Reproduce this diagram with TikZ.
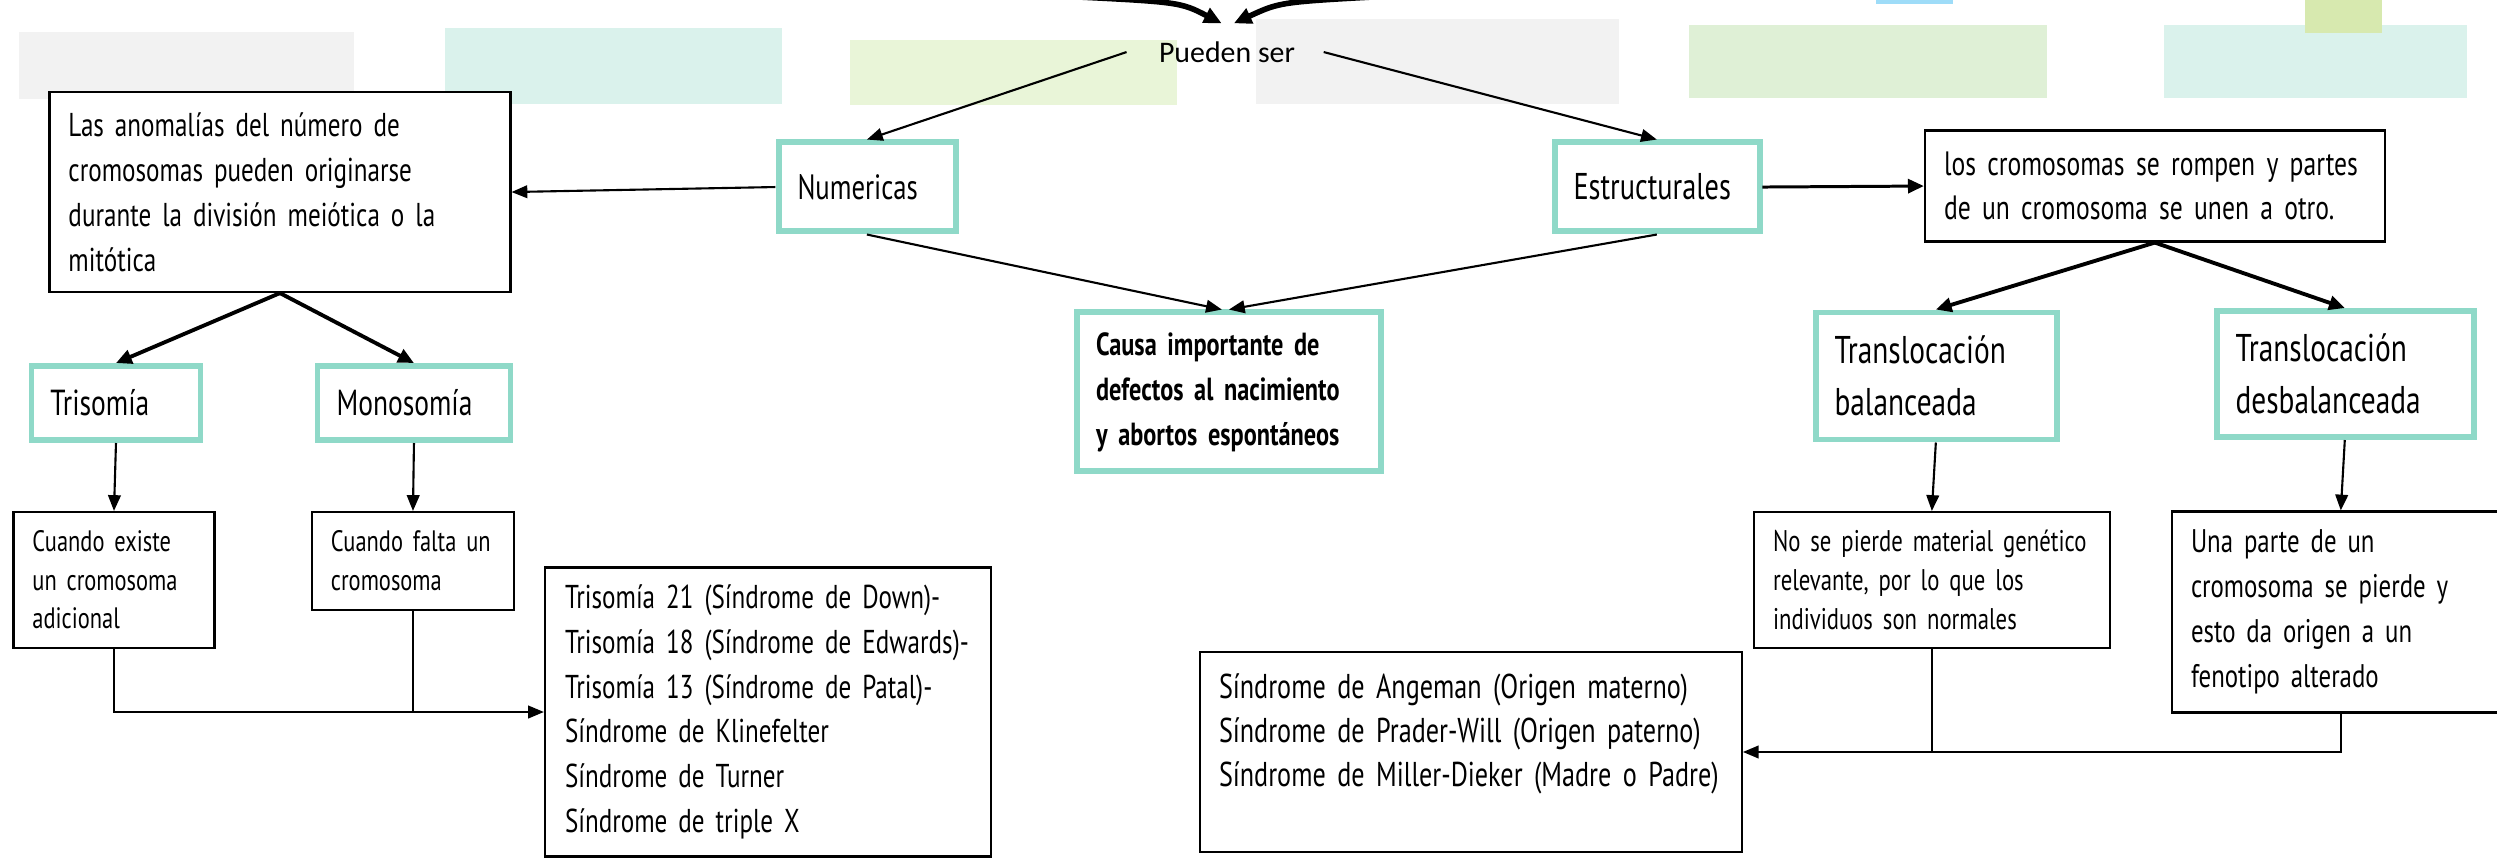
\documentclass[tikz,border=0pt]{standalone}
\usepackage{fontspec}
\setmainfont{Carlito}
\newfontfamily\handfont{PT Sans}[FakeStretch=0.76]
\usetikzlibrary{arrows.meta}

\definecolor{tealBorder}{HTML}{8FD9C8}
\definecolor{paperGrey}{HTML}{F2F2F2}
\definecolor{paperTeal}{HTML}{DAF2EC}
\definecolor{paperLime}{HTML}{E9F5D8}
\definecolor{paperGreen}{HTML}{DFF0D6}
\definecolor{paperBlue}{HTML}{9EDCF8}
\definecolor{paperOlive}{HTML}{D7E9AF}

\begin{document}
\begin{tikzpicture}[scale = 10]
	\tikzstyle{plainStyle} = [draw, line width = 0.6pt, fill = white, inner xsep = 0.19cm, inner ysep = 0pt, align = left]
	\tikzstyle{tealStyle} = [draw = tealBorder, line width = 1.7pt, fill = white, inner xsep = 0.19cm, inner ysep = 0pt, align = left]
	\tikzstyle{thinArrow} = [line width = 0.6pt, -{Triangle[length = 4.5pt, width = 3.6pt]}]
	\tikzstyle{midArrow} = [line width = 0.85pt, -{Triangle[length = 4.5pt, width = 4pt]}]
	\tikzstyle{thickArrow} = [line width = 1.1pt, -{Triangle[length = 4.5pt, width = 4pt]}]
	\tikzstyle{curveArrow} = [line width = 1.6pt, -{Triangle[length = 5pt, width = 4.5pt]}]
	\tikzstyle{joinLine} = [line width = 0.6pt]
	\clip (0, 0) rectangle (2.497, 0.858);
	% coloured notes along the top
	\fill[paperGrey] (0.019, 0.826) rectangle (0.354, 0.759);
	\fill[paperTeal] (0.445, 0.830) rectangle (0.782, 0.754);
	\fill[paperLime] (0.850, 0.818) rectangle (1.177, 0.753);
	\fill[paperGrey] (1.256, 0.839) rectangle (1.619, 0.754);
	\fill[paperGreen] (1.689, 0.833) rectangle (2.047, 0.760);
	\fill[paperTeal] (2.164, 0.833) rectangle (2.467, 0.760);
	\fill[paperBlue] (1.876, 0.858) rectangle (1.953, 0.854);
	\fill[paperOlive] (2.305, 0.858) rectangle (2.382, 0.825);
	\coordinate (srcL) at (1.060, 0.862);
	\coordinate (srcR) at (1.390, 0.862);
	\node[font = \fontsize{8.5}{10}\selectfont, inner sep = 3pt] (pueden) at (1.227, 0.806) {Pueden ser};
	\node[plainStyle, text width = 4.23cm, minimum height = 2.00cm, font = \handfont\fontsize{9.4}{12.8}\selectfont] (anom) at (0.280, 0.666) {Las anomalías del número de\\cromosomas pueden originarse\\durante la división meiótica o la\\mitótica};
	\node[tealStyle, text width = 1.39cm, minimum height = 0.89cm, font = \handfont\fontsize{10}{12}\selectfont] (num) at (0.867, 0.671) {Numericas};
	\node[tealStyle, text width = 1.67cm, minimum height = 0.89cm, font = \handfont\fontsize{10.6}{12}\selectfont] (estr) at (1.657, 0.671) {Estructurales};
	\node[plainStyle, text width = 4.22cm, minimum height = 1.11cm, font = \handfont\fontsize{9.6}{12.5}\selectfont] (loscrom) at (2.155, 0.672) {los cromosomas se rompen y partes\\de un cromosoma se unen a otro.};
	\node[tealStyle, text width = 2.66cm, minimum height = 1.59cm, font = \handfont\bfseries\fontsize{9.1}{12.8}\selectfont] (causa) at (1.229, 0.466) {Causa importante de\\defectos al nacimiento\\y abortos espontáneos};
	\node[tealStyle, text width = 1.31cm, minimum height = 0.74cm, font = \handfont\fontsize{10.3}{12}\selectfont] (tri) at (0.116, 0.455) {Trisomía};
	\node[tealStyle, text width = 1.55cm, minimum height = 0.74cm, font = \handfont\fontsize{10.3}{12}\selectfont] (mono) at (0.414, 0.455) {Monosomía};
	\node[tealStyle, text width = 2.03cm, minimum height = 1.27cm, font = \handfont\fontsize{11}{14.8}\selectfont] (tbal) at (1.936, 0.482) {Translocación\\balanceada};
	\node[tealStyle, text width = 2.19cm, minimum height = 1.26cm, font = \handfont\fontsize{11}{14.8}\selectfont] (tdes) at (2.345, 0.484) {Translocación\\desbalanceada};
	\node[plainStyle, text width = 1.63cm, minimum height = 1.36cm, font = \handfont\fontsize{8.4}{11}\selectfont] (cuandoex) at (0.114, 0.278) {Cuando existe\\un cromosoma\\adicional};
	\node[plainStyle, text width = 1.64cm, minimum height = 0.98cm, font = \handfont\fontsize{8.4}{11}\selectfont] (cuandofal) at (0.413, 0.297) {Cuando falta un\\cromosoma};
	\node[plainStyle, text width = 4.06cm, minimum height = 2.89cm, inner xsep = 0.2cm, font = \handfont\fontsize{9.4}{12.7}\selectfont] (lista) at (0.768, 0.146) {Trisomía 21 (Síndrome de Down)-\\Trisomía 18 (Síndrome de Edwards)-\\Trisomía 13 (Síndrome de Patal)-\\Síndrome de Klinefelter\\Síndrome de Turner\\Síndrome de triple X};
	\node[plainStyle, text width = 5.04cm, minimum height = 2.00cm, font = \handfont\fontsize{9.8}{12.5}\selectfont] (sindr) at (1.471, 0.106) {Síndrome de Angeman (Origen materno)\\Síndrome de Prader-Will (Origen paterno)\\Síndrome de Miller-Dieker (Madre o Padre)\\\mbox{}};
	\node[plainStyle, text width = 3.18cm, minimum height = 1.36cm, font = \handfont\fontsize{8.5}{11}\selectfont] (nopierde) at (1.932, 0.278) {No se pierde material genético\\relevante, por lo que los\\individuos son normales};
	\node[plainStyle, text width = 3.00cm, minimum height = 2.01cm, font = \handfont\fontsize{9.3}{12.8}\selectfont] (unaparte) at (2.341, 0.246) {Una parte de un\\cromosoma se pierde y\\esto da origen a un\\fenotipo alterado};
	% connectors (shifts are scaled by 10 too)
	\draw[curveArrow] (srcL) .. controls (1.180, 0.856) .. ([xshift = -0.15pt, yshift = 0.2pt]pueden.north);
	\draw[curveArrow] (srcR) .. controls (1.280, 0.856) .. ([xshift = 0.2pt, yshift = 0.2pt]pueden.north);
	\draw[thinArrow] ([xshift = -0.6pt]pueden.west) -- (num.north);
	\draw[thinArrow] ([xshift = 0.5pt]pueden.east) -- (estr.north);
	\draw[thinArrow] (num.west) -- (anom.east);
	\draw[thinArrow] (num.south) -- ([xshift = -0.2pt]causa.north);
	\draw[thinArrow] (estr.south) -- (causa.north);
	\draw[midArrow] (estr.east) -- (loscrom.west);
	\draw[thickArrow] (anom.south) -- (tri.north);
	\draw[thickArrow] (anom.south) -- (mono.north);
	\draw[thickArrow] (loscrom.south) -- (tbal.north);
	\draw[thickArrow] (loscrom.south) -- (tdes.north);
	\draw[thinArrow] (tri.south) -- (cuandoex.north);
	\draw[thinArrow] (mono.south) -- (cuandofal.north);
	\draw[thinArrow] (tbal.south) -- (nopierde.north);
	\draw[thinArrow] (tdes.south) -- (unaparte.north);
	\draw[joinLine] (cuandoex.south) |- (cuandofal.south |- lista.west);
	\draw[thinArrow] (cuandofal.south) |- (lista.west);
	\draw[joinLine] (unaparte.south) |- (nopierde.south |- sindr.east);
	\draw[thinArrow] (nopierde.south) |- (sindr.east);
\end{tikzpicture}
\end{document}
